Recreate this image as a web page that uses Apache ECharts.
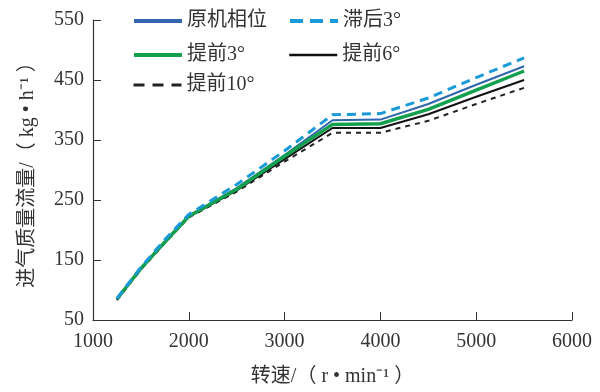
<!DOCTYPE html>
<html><head><meta charset="utf-8">
<script src="https://cdn.jsdelivr.net/npm/echarts@6/dist/echarts.min.js"></script>
<style>html,body{margin:0;padding:0;background:#fff}#c{width:600px;height:392px}</style>
</head><body><div id="c"></div>
<script>
const speeds = [1250,1500,1750,2000,2500,3000,3500,4000,4500,5000,5500];
const seriesNames = ['原机相位','滞后3°','提前3°','提前6°','提前10°'];
const yuanji   = [85,136,180,223,270,325,383,384,410,442,473];
const zhihou3  = [86,138,184,226,276,332,392,394,420,454,487];
const tiqian3  = [85,136,180,223,268,323,376,377,401,433,465];
const tiqian6  = [84,135,179,222,266,318,370,370,393,422,450];
const tiqian10 = [83,134,178,221,264,314,362,362,382,410,437];
const xTicks = [1000,2000,3000,4000,5000,6000];
const yTicks = [50,150,250,350,450,550];

const font = '"Liberation Serif","Times New Roman","Noto Sans CJK SC",serif';
const styles = [
  {color:'#2f66ad', width:2, type:'solid', lw:4, lt:'solid'},
  {color:'#1a9ad8', width:3, type:[9,6], lw:4, lt:[13,7]},
  {color:'#13a04e', width:3.5, type:'solid', lw:4, lt:'solid'},
  {color:'#111111', width:2, type:'solid', lw:2.5, lt:'solid'},
  {color:'#222222', width:2, type:[5,5], lw:3, lt:[11,8]}
];
const datas = [yuanji, zhihou3, tiqian3, tiqian6, tiqian10];
const series = seriesNames.map((n,i)=>({
  name:n, type:'line', symbol:'none', z: [3,5,4,2,1][i],
  data: speeds.map((s,j)=>[s, datas[i][j]]),
  lineStyle:{color:styles[i].color, width:styles[i].width, type:styles[i].type},
  itemStyle:{color:styles[i].color}
}));
const legendPos = [[127,6],[283,6],[127,40],[283,40],[127,70]];
const legends = seriesNames.map((n,i)=>({
  show:true, orient:'horizontal',
  data:[n], left:legendPos[i][0], top:legendPos[i][1],
  itemWidth:48, itemHeight:20, itemGap:4,
  textStyle:{fontFamily:font, fontSize:20, color:'#333'},
  itemStyle:{opacity:0},
  lineStyle:{width:styles[i].lw, type:styles[i].lt}
}));
const chart = echarts.init(document.getElementById('c'));
chart.setOption({
  animation:false,
  backgroundColor:'#fff',
  grid:{left:93, right:28, top:20, bottom:63, containLabel:false},
  legend: legends,
  xAxis:{type:'value', min:1000, max:6000, interval:1000,
    name:'转速/（ r • min⁻¹ ）', nameLocation:'middle', nameGap:47,
    nameTextStyle:{fontFamily:font, fontSize:20, color:'#333'},
    axisLine:{lineStyle:{color:'#333', width:1.2}},
    axisTick:{inside:true, length:8, lineStyle:{color:'#333'}},
    axisLabel:{fontFamily:font, fontSize:20, color:'#333', margin:12,
      formatter:v=>xTicks.includes(v)?String(v):''},
    splitLine:{show:false}},
  yAxis:{type:'value', min:50, max:550, interval:100,
    name:'进气质量流量/（ kg • h⁻¹ ）', nameLocation:'middle', nameGap:55, nameRotate:90,
    nameTextStyle:{fontFamily:font, fontSize:20, color:'#333'},
    axisLine:{show:true, lineStyle:{color:'#333', width:1.2}},
    axisTick:{show:true, inside:true, length:8, lineStyle:{color:'#333'}},
    axisLabel:{fontFamily:font, fontSize:20, color:'#333', margin:9,
      formatter:v=>yTicks.includes(v)?String(v):''},
    splitLine:{show:false}},
  series: series
});
</script></body></html>
